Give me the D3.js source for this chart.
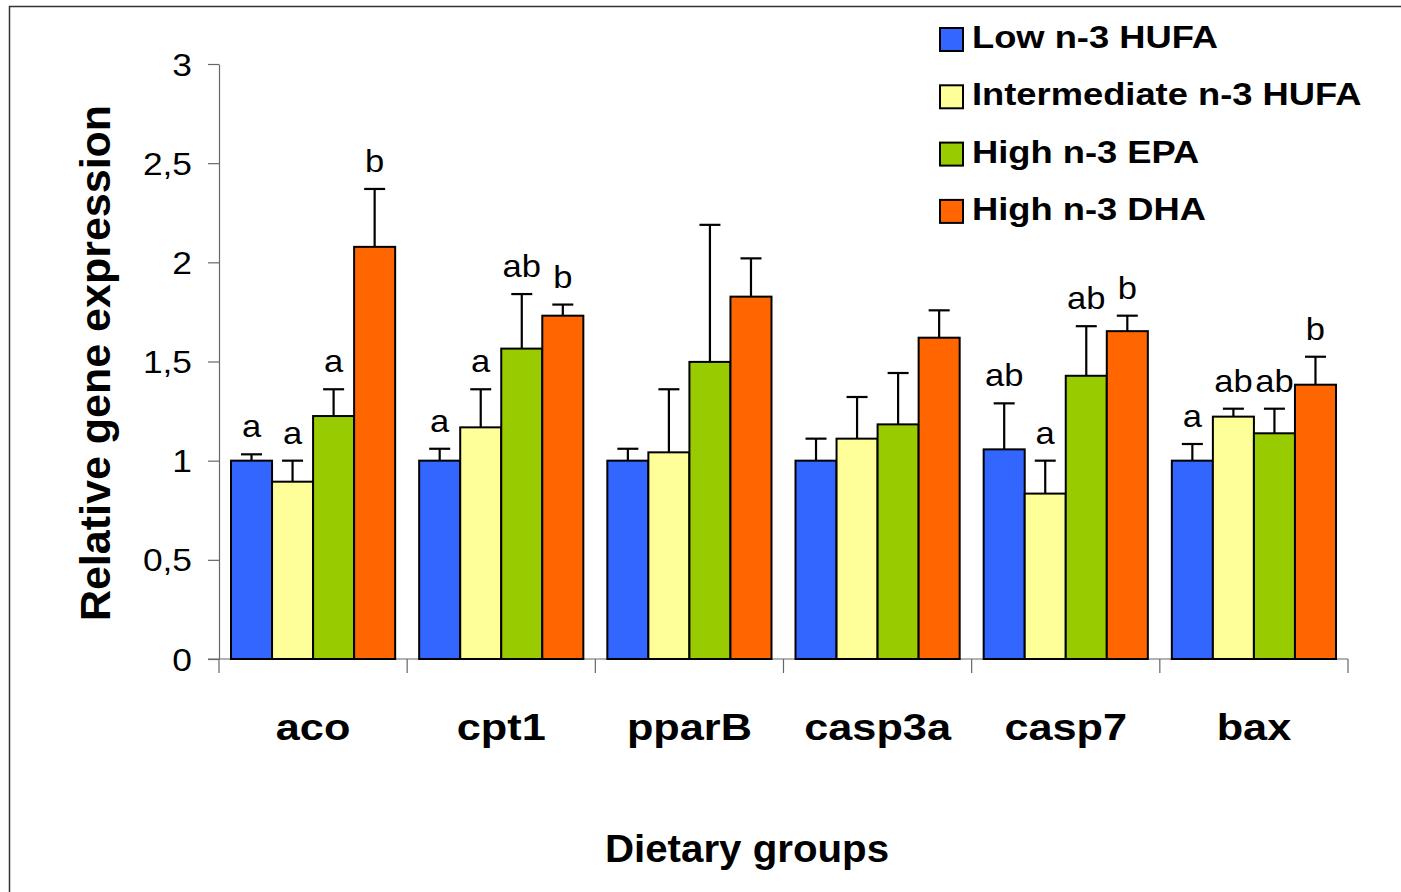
<!DOCTYPE html>
<html><head><meta charset="utf-8">
<script src="https://cdn.jsdelivr.net/npm/d3@7"></script>
<style>body{margin:0;background:#fff;overflow:hidden} svg{display:block} text{font-family:"Liberation Sans",Arial,sans-serif;fill:#000}</style>
</head><body><svg id="c" width="1401" height="892"></svg>
<script>
const categories = ["aco","cpt1","pparB","casp3a","casp7","bax"];
const seriesNames = ["Low n-3 HUFA","Intermediate n-3 HUFA","High n-3 EPA","High n-3 DHA"];
const lowHUFA    = [1.000,1.000,1.000,1.000,1.057,1.000];
const lowHUFAErr = [0.032,0.060,0.060,0.111,0.232,0.084];
const intHUFA    = [0.894,1.168,1.042,1.111,0.834,1.222];
const intHUFAErr = [0.106,0.192,0.318,0.210,0.166,0.040];
const highEPA    = [1.225,1.565,1.498,1.183,1.428,1.138];
const highEPAErr = [0.135,0.275,0.691,0.259,0.250,0.124];
const highDHA    = [2.078,1.731,1.827,1.620,1.653,1.383];
const highDHAErr = [0.292,0.056,0.193,0.138,0.078,0.141];
const lowLetters = ["a","a","","","ab","a"];
const intLetters = ["a","a","","","a","ab"];
const epaLetters = ["a","ab","","","ab","ab"];
const dhaLetters = ["b","b","","","b","b"];
const yTicks = [0,0.5,1,1.5,2,2.5,3];
const colors = ["#3366FF","#FFFF99","#99CC00","#FF6600"];

const series = [
  {name:seriesNames[0], vals:lowHUFA, errs:lowHUFAErr, letters:lowLetters},
  {name:seriesNames[1], vals:intHUFA, errs:intHUFAErr, letters:intLetters},
  {name:seriesNames[2], vals:highEPA, errs:highEPAErr, letters:epaLetters},
  {name:seriesNames[3], vals:highDHA, errs:highDHAErr, letters:dhaLetters}
];

const svg = d3.select("#c");
const L = 219, R = 1348, T = 64, B = 659;
const x0 = d3.scaleBand().domain(categories).range([L, R]).paddingInner(0).paddingOuter(0);
const x1 = d3.scaleBand().domain(d3.range(series.length)).range([12, x0.bandwidth() - 12]).padding(0);
const y = d3.scaleLinear().domain([0, 3]).range([B, T]);

// outer frame
svg.append("rect").attr("x", 9.5).attr("y", 6.5).attr("width", 1400).attr("height", 900)
  .attr("fill", "none").attr("stroke", "#333").attr("stroke-width", 1.5);

// y axis
const fmt = d => String(d).replace(".", ",");
const yAxis = svg.append("g").attr("transform", `translate(${L},0)`)
  .call(d3.axisLeft(y).tickValues(yTicks).tickSize(11).tickSizeOuter(0).tickFormat(fmt));
yAxis.select(".domain").attr("stroke", "#666").attr("stroke-width", 1.2);
yAxis.selectAll(".tick line").attr("stroke", "#666").attr("stroke-width", 1.2);
yAxis.selectAll(".tick text").attr("x", null).attr("dy", "0.36em")
  .attr("transform", "translate(-27,0) scale(1.14,1)")
  .style("font-size", "31px").attr("text-anchor", "end").attr("fill", "#000");

// x axis
const xg = svg.append("g");
xg.append("line").attr("x1", L - 11).attr("x2", R).attr("y1", B).attr("y2", B)
  .attr("stroke", "#666").attr("stroke-width", 1.2);
const bounds = categories.map(c => x0(c)).concat([x0(categories[categories.length - 1]) + x0.bandwidth()]);
xg.selectAll("line.tk").data(bounds).join("line").attr("class", "tk")
  .attr("x1", d => d).attr("x2", d => d).attr("y1", B).attr("y2", B + 14)
  .attr("stroke", "#666").attr("stroke-width", 1.2);
xg.selectAll("text.cat").data(categories).join("text").attr("class", "cat")
  .attr("transform", d => `translate(${x0(d) + x0.bandwidth() / 2},740) scale(1.17,1)`)
  .attr("text-anchor", "middle").style("font-size", "37px").style("font-weight", "bold").text(d => d);

// bars
const groups = svg.append("g").selectAll("g").data(categories).join("g")
  .attr("transform", c => `translate(${x0(c)},0)`);
series.forEach((s, si) => {
  const data = categories.map((c, ci) => ({c, ci, v: s.vals[ci], e: s.errs[ci], l: s.letters[ci]}));
  groups.each(function(c, ci) {
    const g = d3.select(this);
    const d = data[ci];
    const bx = x1(si), bw = x1.bandwidth();
    const cx = bx + bw / 2;
    g.append("line").attr("x1", cx).attr("x2", cx).attr("y1", y(d.v)).attr("y2", y(d.v + d.e))
      .attr("stroke", "#000").attr("stroke-width", 2.2);
    g.append("line").attr("x1", cx - 10.5).attr("x2", cx + 10.5).attr("y1", y(d.v + d.e)).attr("y2", y(d.v + d.e))
      .attr("stroke", "#000").attr("stroke-width", 2.2);
    g.append("rect").attr("x", bx).attr("y", y(d.v)).attr("width", bw).attr("height", y(0) - y(d.v))
      .attr("fill", colors[si]).attr("stroke", "#000").attr("stroke-width", 2);
    if (d.l) {
      g.append("text").attr("transform", `translate(${cx},${y(d.v + d.e) - 17}) scale(1.08,1)`)
        .attr("text-anchor", "middle").style("font-size", "32px").text(d.l);
    }
  });
});

// y title
svg.append("text").attr("transform", "translate(110,363) rotate(-90)")
  .attr("text-anchor", "middle").style("font-size", "43px").style("font-weight", "bold")
  .text("Relative gene expression");

// x title
svg.append("text").attr("transform", "translate(747,862) scale(1.06,1)")
  .attr("text-anchor", "middle").style("font-size", "38px").style("font-weight", "bold")
  .text("Dietary groups");

// legend
const lg = svg.append("g").selectAll("g").data(series).join("g")
  .attr("transform", (d, i) => `translate(940,${48 + i * 57.3})`);
lg.append("rect").attr("x", 0).attr("y", -20).attr("width", 23).attr("height", 23)
  .attr("fill", (d, i) => colors[i]).attr("stroke", "#000").attr("stroke-width", 2);
lg.append("text").attr("transform", "translate(32,0) scale(1.135,1)")
  .style("font-size", "32px").style("font-weight", "bold").text(d => d.name);
</script>
</body></html>
